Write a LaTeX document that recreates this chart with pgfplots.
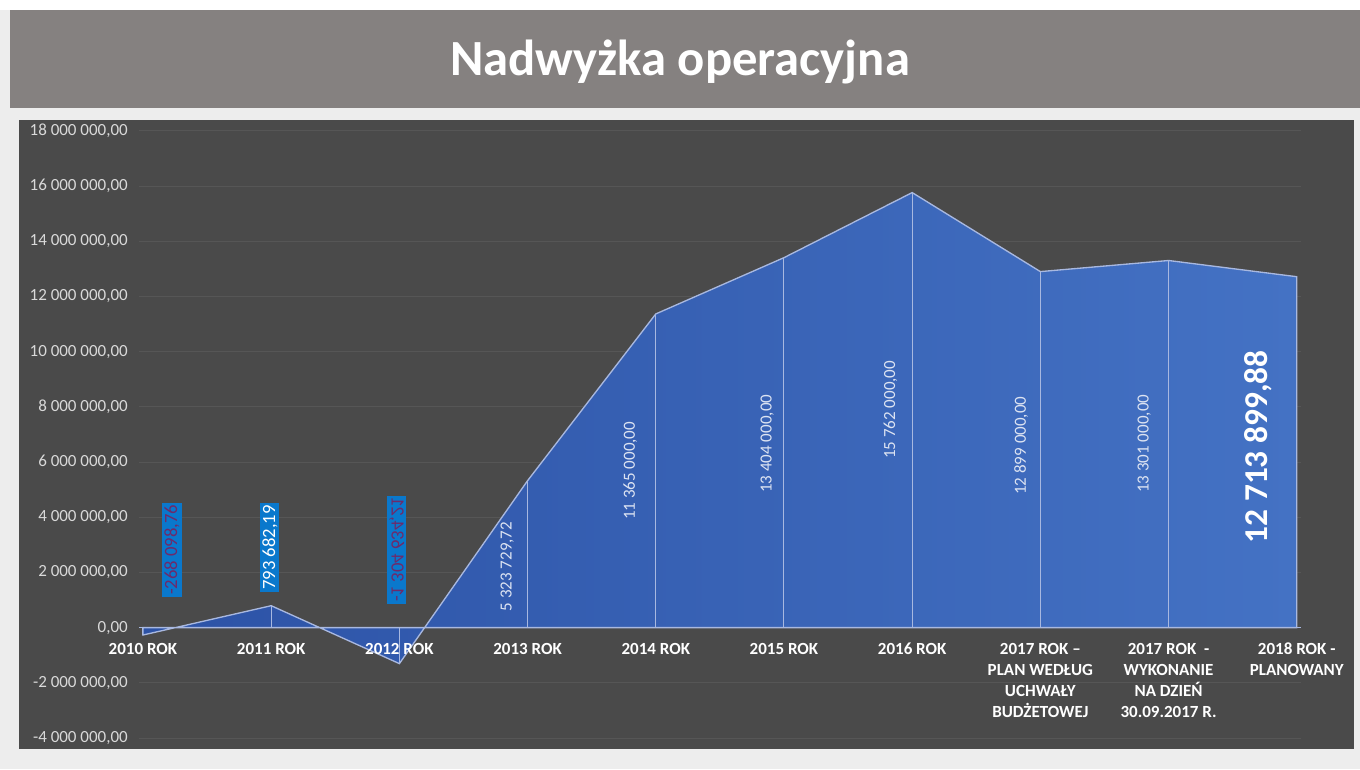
\documentclass[border=0pt]{standalone}
\usepackage{pgfplots}
\pgfplotsset{compat=1.18}
\usepackage{pgfplotstable}
\usepackage{fontspec}
\setmainfont{Carlito}
\definecolor{outerbg}{HTML}{EDEDED}
\definecolor{titlebg}{HTML}{858180}
\definecolor{panel}{HTML}{4A4A4A}
\definecolor{gridc}{HTML}{565656}
\definecolor{areaL}{HTML}{2C52A6}
\definecolor{areaR}{HTML}{4472C4}
\definecolor{edge}{HTML}{A8B8E0}
\definecolor{boxblue}{HTML}{0A78CC}
\definecolor{labpurple}{HTML}{6E2A6A}
\definecolor{ticktext}{HTML}{D9D9D9}
\definecolor{labtext}{HTML}{DCE3F2}

\pgfplotstableread[row sep=\\, col sep=semicolon]{
x;y\\
0;-268098.76\\
1;793682.19\\
2;-1304634.21\\
3;5323729.72\\
4;11365000\\
5;13404000\\
6;15762000\\
7;12899000\\
8;13301000\\
9;12713899.88\\
}\datatable

\pgfplotsset{
  common/.style={
    at={(104.36pt,-553.5pt)}, anchor=south west,
    scale only axis, width=871.1pt, height=455.4pt,
    xmin=-0.03, xmax=9.03, ymin=-4000000, ymax=18000000,
    major tick length=0pt, scaled y ticks=false, clip=false,
    ytick={-4000000,-2000000,0,2000000,4000000,6000000,8000000,10000000,12000000,14000000,16000000,18000000},
    xtick={0,1,2,3,4,5,6,7,8,9},
  }
}

\begin{document}
\begin{tikzpicture}[x=0.75pt,y=-0.75pt]
\fill[outerbg] (0,0) rectangle (1360,769);
\fill[white] (0,0) rectangle (1360,10);
\fill[titlebg] (10,10) rectangle (1360,108);
\fill[panel] (19,120) rectangle (1354,749);
\node[text=white, font=\fontsize{38}{42}\selectfont\bfseries] at (680,62) {Nadwyżka operacyjna};
% back layer: grid and area
\begin{axis}[common,
  axis line style={draw=none}, tick style={draw=none},
  xticklabels={}, yticklabels={},
  ymajorgrids, grid style={gridc, line width=0.75pt},
]
\addplot[draw=edge, line width=1pt, left color=areaL, right color=areaR, mark=none] table[x=x,y=y]{\datatable} \closedcycle;
\addplot[ycomb, draw=edge, line width=0.75pt, mark=none] table[x=x,y=y]{\datatable};
\end{axis}
% front layer: axis line, tick labels, data labels
\begin{axis}[common,
  axis x line*=middle, axis y line*=left,
  x axis line style={draw=edge, line width=0.75pt, -},
  y axis line style={draw=none, -},
  yticklabels={{-4 000 000,00},{-2 000 000,00},{0,00},{2 000 000,00},{4 000 000,00},{6 000 000,00},{8 000 000,00},{10 000 000,00},{12 000 000,00},{14 000 000,00},{16 000 000,00},{18 000 000,00}},
  xticklabels={{2010 ROK},{2011 ROK},{2012 ROK},{2013 ROK},{2014 ROK},{2015 ROK},{2016 ROK},{2017 ROK –\\PLAN WEDŁUG\\UCHWAŁY\\BUDŻETOWEJ},{2017 ROK \ -\\WYKONANIE\\NA DZIEŃ\\30.09.2017 R.},{2018 ROK -\\PLANOWANY}},
  yticklabel style={font=\fontsize{12.75}{14}\selectfont, text=ticktext, anchor=east, xshift=-5pt},
  xticklabel style={font=\fontsize{12.75}{15.75}\selectfont\bfseries, text=white, align=center, anchor=north, yshift=-8pt},
]
% boxed labels, purple text
\addplot[draw=none, mark=none, nodes near coords, point meta=explicit symbolic,
  every node near coord/.append style={anchor=center, rotate=90, fill=boxblue, text=labpurple, inner sep=1.5pt, font=\fontsize{14}{15}\selectfont}]
  coordinates {(0.226,2820000) [-268 098,76]};
\addplot[draw=none, mark=none, nodes near coords, point meta=explicit symbolic,
  every node near coord/.append style={anchor=center, rotate=90, yscale=-1, fill=boxblue, text=labpurple, inner sep=1.5pt, font=\fontsize{14}{15}\selectfont}]
  coordinates {(1.98,2820000) [-1 304 634,21]};
\addplot[draw=none, mark=none, nodes near coords, point meta=explicit symbolic,
  every node near coord/.append style={anchor=center, rotate=90, fill=boxblue, text=white, inner sep=1.5pt, font=\fontsize{14}{15}\selectfont}]
  coordinates {(0.99,2900000) [793 682,19]};
% plain labels
\addplot[draw=none, mark=none, nodes near coords, point meta=explicit symbolic,
  every node near coord/.append style={anchor=center, rotate=90, text=labtext, inner sep=1pt, font=\fontsize{12.75}{14}\selectfont}]
  coordinates {(2.84,2210000) [5 323 729,72] (3.80,5680000) [11 365 000,00] (4.87,6660000) [13 404 000,00] (5.83,7890000) [15 762 000,00] (6.85,6590000) [12 899 000,00] (7.81,6660000) [13 301 000,00]};
\addplot[draw=none, mark=none, nodes near coords, point meta=explicit symbolic,
  every node near coord/.append style={anchor=center, rotate=90, text=white, inner sep=1pt, font=\fontsize{25}{28}\selectfont\bfseries}]
  coordinates {(8.70,6550000) [12 713 899,88]};
\end{axis}
\end{tikzpicture}
\end{document}
